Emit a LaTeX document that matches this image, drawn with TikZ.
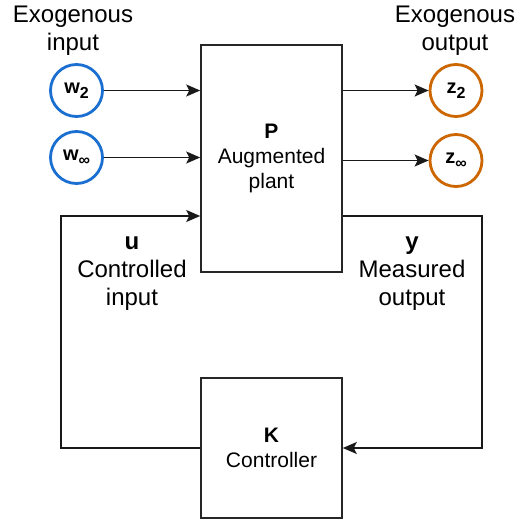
\documentclass[tikz,border=0pt]{standalone}
\usepackage{fontspec}
\setmainfont{Liberation Sans}
\usepackage{xcolor}
\usetikzlibrary{arrows.meta,positioning,calc}
\definecolor{inblue}{HTML}{1A6FD0}
\definecolor{outorange}{HTML}{CC6600}
\tikzset{
  blk/.style   ={draw=black!85,line width=1.6pt,minimum width=141pt,inner sep=0pt,align=center,font=\fontsize{21}{25}\selectfont},
  sig/.style   ={circle,draw,line width=2.8pt,minimum size=52pt,inner sep=0pt,font=\bfseries\fontsize{20}{20}\selectfont},
  insig/.style ={sig,draw=inblue},
  outsig/.style={sig,draw=outorange},
  wire/.style  ={line width=1.6pt,draw=black!90,-{Stealth[length=14pt,width=12pt,inset=3pt]}},
  lbl/.style   ={align=center,font=\fontsize{24}{28}\selectfont},
}
\newcommand{\sigsub}[2]{#1\raisebox{-5pt}{\fontsize{16}{16}\selectfont #2}}

\begin{document}
\begin{tikzpicture}[x=1pt,y=-1pt]
  \useasboundingbox (0,0) rectangle (515,522);
  % blocks
  \node[blk,minimum height=227pt] (P) at (271.5,158.5){\textbf{P}\\Augmented\\plant};
  \node[blk,minimum height=140pt] (K) at (271.5,448){\textbf{K}\\Controller};
  % exogenous signals
  \node[insig]  (w2)   at (76.5,90.5){\sigsub{w}{2}};
  \node[insig]  (winf) at (76.5,157.5){\sigsub{w}{∞}};
  \node[outsig] (z2)   at (456,90.5){\sigsub{z}{2}};
  \node[outsig] (zinf) at (456,160.5){\sigsub{z}{∞}};
  \foreach \s in {w2,winf}{
     \draw[wire] (\s) -- (\s -| P.west);
  }
  \foreach \s in {z2,zinf}{
     \draw[wire] (P.east |- \s) -- (\s);
  }
  \node[lbl] (exin)  at (73,30.5){Exogenous\\input};
  \node[lbl] (exout) at (455,30.5){Exogenous\\output};
  % feedback loop
  \coordinate (ucorner) at (61,216);
  \coordinate (ycorner) at (482,216);
  \draw[wire] (K.west) -| (ucorner) -- (P.west |- ucorner);
  \draw[wire] (P.east |- ycorner) -- (ycorner) |- (K.east);
  \node[lbl] (ulbl) at (132,274){\textbf{u}\\Controlled\\input};
  \node[lbl] (ylbl) at (412,274){\textbf{y}\\Measured\\output};
\end{tikzpicture}
\end{document}
